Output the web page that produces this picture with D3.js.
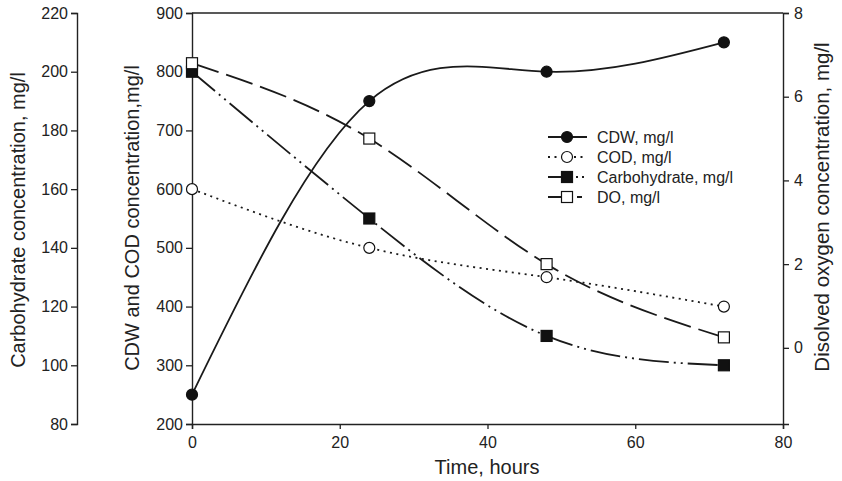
<!DOCTYPE html>
<html>
<head>
<meta charset="utf-8">
<script src="https://cdn.jsdelivr.net/npm/d3@7"></script>
<style>
  body { margin: 0; background: #fff; }
  text { font-family: "Liberation Sans", Arial, sans-serif; fill: #222; }
</style>
</head>
<body>
<svg id="chart" width="842" height="481"></svg>
<script>
// data
const hours = [0, 24, 48, 72];
const cdw = [250, 750, 800, 850];          // mg/l, middle axis
const cod = [600, 500, 450, 400];          // mg/l, middle axis
const carbohydrate = [200, 150, 110, 100]; // mg/l, far left axis
const dissolvedO2 = [6.8, 5.0, 2.0, 0.25]; // mg/l, right axis

const xTicks = [0, 20, 40, 60, 80];
const midTicks = [200, 300, 400, 500, 600, 700, 800, 900];
const carbTicks = [80, 100, 120, 140, 160, 180, 200, 220];
const doTicks = [0, 2, 4, 6, 8];

const svg = d3.select('#chart');
const plotLeft = 192, plotRight = 783, plotTop = 13, plotBottom = 424;
const carbAxisX = 77;

const x = d3.scaleLinear().domain([0, 80]).range([plotLeft, plotRight]);
const yMid = d3.scaleLinear().domain([200, 900]).range([plotBottom, plotTop]);
const yCarb = d3.scaleLinear().domain([80, 220]).range([plotBottom, plotTop]);
const yDO = d3.scaleLinear().domain([-1.82, 8]).range([plotBottom, plotTop]);

function styleAxis(g) {
  g.selectAll('path, line').attr('stroke', '#222').attr('stroke-width', 1.3);
  g.selectAll('text').attr('font-size', 16).attr('fill', '#222');
  g.select('.domain').attr('stroke-width', 1.4);
}

// top frame line
svg.append('line')
  .attr('x1', plotLeft).attr('x2', plotRight).attr('y1', plotTop).attr('y2', plotTop)
  .attr('stroke', '#222').attr('stroke-width', 1.4);

svg.append('g')
  .attr('transform', `translate(0,${plotBottom})`)
  .call(d3.axisBottom(x).tickValues(xTicks).tickSizeOuter(0).tickSize(5).tickPadding(8))
  .call(styleAxis);

svg.append('g')
  .attr('transform', `translate(${plotLeft},0)`)
  .call(d3.axisLeft(yMid).tickValues(midTicks).tickSizeOuter(0).tickSize(6).tickPadding(3))
  .call(styleAxis);

svg.append('g')
  .attr('transform', `translate(${carbAxisX},0)`)
  .call(d3.axisLeft(yCarb).tickValues(carbTicks).tickSizeOuter(0).tickSize(6).tickPadding(3))
  .call(styleAxis);

svg.append('g')
  .attr('transform', `translate(${plotRight},0)`)
  .call(d3.axisRight(yDO).tickValues(doTicks).tickSizeOuter(0).tickSize(6).tickPadding(5))
  .call(styleAxis);

// axis titles
svg.append('text')
  .attr('transform', 'translate(25,220)rotate(-90)')
  .attr('text-anchor', 'middle').attr('font-size', 20)
  .text('Carbohydrate concentration, mg/l');

svg.append('text')
  .attr('transform', 'translate(139,218)rotate(-90)')
  .attr('text-anchor', 'middle').attr('font-size', 20)
  .text('CDW and COD concentration,mg/l');

svg.append('text')
  .attr('transform', 'translate(829,207)rotate(-90)')
  .attr('text-anchor', 'middle').attr('font-size', 20.5)
  .text('Disolved oxygen concentration, mg/l');

svg.append('text')
  .attr('x', 487).attr('y', 474)
  .attr('text-anchor', 'middle').attr('font-size', 20)
  .text('Time, hours');

// series
const series = [
  { name: 'CDW, mg/l', values: cdw, y: yMid, dash: null, legendDash: null, marker: 'circle', fill: '#111' },
  { name: 'COD, mg/l', values: cod, y: yMid, dash: '2,4.5', legendDash: '2,4.5', marker: 'circle', fill: '#fff' },
  { name: 'Carbohydrate, mg/l', values: carbohydrate, y: yCarb, dash: '30,5,2,5,2,5', legendDash: '24,4,2,4,2,4', marker: 'square', fill: '#111' },
  { name: 'DO, mg/l', values: dissolvedO2, y: yDO, dash: '28,8', legendDash: '24,5,5,5', marker: 'square', fill: '#fff' }
];

function drawMarker(g, s, cx, cy) {
  if (s.marker === 'circle') {
    g.append('circle').attr('cx', cx).attr('cy', cy).attr('r', 5.5)
      .attr('fill', s.fill).attr('stroke', '#111').attr('stroke-width', 1.2);
  } else {
    g.append('rect').attr('x', cx - 5.5).attr('y', cy - 5.5)
      .attr('width', 11).attr('height', 11)
      .attr('fill', s.fill).attr('stroke', '#111').attr('stroke-width', 1.2);
  }
}

const plot = svg.append('g');
series.forEach(s => {
  const line = d3.line()
    .x((d, i) => x(hours[i]))
    .y(d => s.y(d))
    .curve(d3.curveNatural);
  plot.append('path')
    .datum(s.values)
    .attr('d', line)
    .attr('fill', 'none')
    .attr('stroke', '#1a1a1a')
    .attr('stroke-width', 1.8)
    .attr('stroke-dasharray', s.dash);
});
series.forEach(s => {
  s.values.forEach((v, i) => drawMarker(plot, s, x(hours[i]), s.y(v)));
});

// legend
const legend = svg.append('g').attr('transform', 'translate(548,137)');
series.forEach((s, i) => {
  const row = legend.append('g').attr('transform', `translate(0,${i * 20})`);
  row.append('line')
    .attr('x1', 0).attr('x2', 39).attr('y1', 0).attr('y2', 0)
    .attr('stroke', '#1a1a1a').attr('stroke-width', 1.8)
    .attr('stroke-dasharray', s.legendDash);
  drawMarker(row, s, 19, 0);
  row.append('text')
    .attr('x', 49).attr('y', 6)
    .attr('font-size', 16)
    .text(s.name);
});
</script>
</body>
</html>
